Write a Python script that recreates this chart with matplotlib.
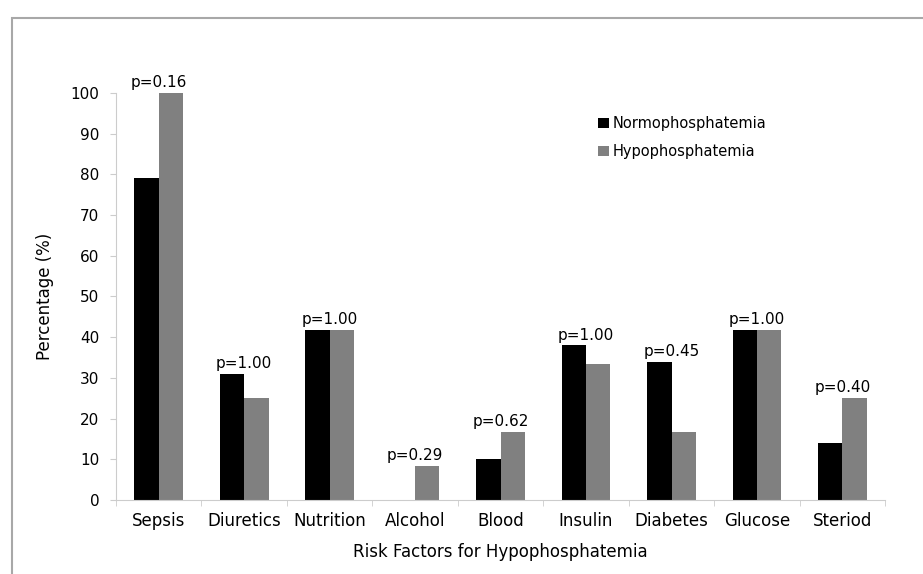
import matplotlib
matplotlib.use("Agg")
import matplotlib.pyplot as plt
import numpy as np
from matplotlib.patches import Rectangle

categories = ["Sepsis", "Diuretics", "Nutrition", "Alcohol", "Blood",
              "Insulin", "Diabetes", "Glucose", "Steriod"]
normo = [79, 31, 41.7, 0, 10, 38, 34, 41.7, 14]
hypo = [100, 25, 41.7, 8.3, 16.7, 33.3, 16.7, 41.7, 25]
p_labels = ["p=0.16", "p=1.00", "p=1.00", "p=0.29", "p=0.62",
            "p=1.00", "p=0.45", "p=1.00", "p=0.40"]
yticks = list(range(0, 101, 10))

fig = plt.figure(figsize=(9.23, 5.74), dpi=100)
ax = fig.add_axes([0.1257, 0.129, 0.8333, 0.709])

# outer frame like the pasted figure
fig.patches.append(Rectangle((12 / 923, -0.05), 1.0, 1 - 18 / 574 + 0.05,
                             transform=fig.transFigure, fill=False,
                             edgecolor="#a8a8a8", lw=1.5))

x = np.arange(len(categories))
w = 0.285
ax.bar(x - w / 2, normo, w, color="#000000", label="Normophosphatemia")
ax.bar(x + w / 2, hypo, w, color="#808080", label="Hypophosphatemia")

for i, lab in enumerate(p_labels):
    top = max(normo[i], hypo[i])
    ax.annotate(lab, (x[i], top), xytext=(0, 2), textcoords="offset points",
                ha="center", va="bottom", fontsize=11)

ax.set_xlim(-0.5, len(categories) - 0.5)
ax.set_ylim(0, 100)
ax.set_yticks(yticks)
ax.set_xticks(x)
ax.set_xticklabels(categories, fontsize=12)
ax.set_xticks(np.arange(len(categories) + 1) - 0.5, minor=True)
ax.tick_params(axis="x", which="major", length=0, pad=9)
ax.tick_params(axis="x", which="minor", length=4, color="#cccccc")
ax.tick_params(axis="y", labelsize=11, length=4, color="#cccccc", pad=8)

for s in ["top", "right"]:
    ax.spines[s].set_visible(False)
ax.spines["left"].set_color("#cccccc")
ax.spines["bottom"].set_color("#cccccc")

ax.set_ylabel("Percentage (%)", fontsize=12, labelpad=12)
ax.set_xlabel("Risk Factors for Hypophosphatemia", fontsize=12, labelpad=9)

ax.legend(loc="upper left", bbox_to_anchor=(0.61, 0.975), frameon=False,
          fontsize=10.5, handlelength=0.7, handleheight=0.7,
          handletextpad=0.3, labelspacing=0.9)

fig.savefig("out.png", dpi=100)
